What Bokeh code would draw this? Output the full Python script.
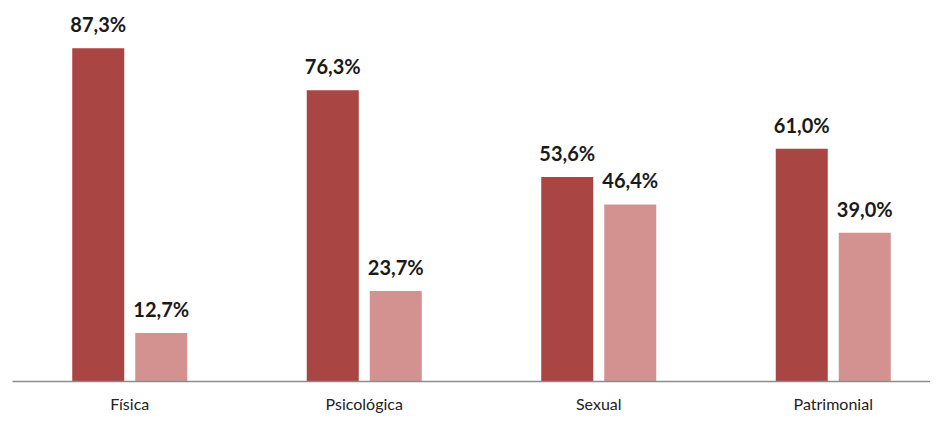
from bokeh.plotting import figure
from bokeh.models import ColumnDataSource, FixedTicker, Range1d
from bokeh.transform import dodge
from bokeh.core.properties import value
from bokeh.embed import file_html
from bokeh.resources import INLINE

categories = ["Física", "Psicológica", "Sexual", "Patrimonial"]
series_a = [87.3, 76.3, 53.6, 61.0]
series_b = [12.7, 23.7, 46.4, 39.0]

def fmt(v):
    return f"{v:.1f}".replace(".", ",") + "%"

xs = [i + 0.5 for i in range(len(categories))]
src = ColumnDataSource(dict(
    x=xs,
    a=series_a,
    b=series_b,
    la=[fmt(v) for v in series_a],
    lb=[fmt(v) for v in series_b],
))

W, H = 930, 415
left = 12
px_per_cat = 234.5
frame_w = W - left
frame_h = 383
px_per_unit = 3.837

p = figure(width=W, height=H, output_backend="svg", toolbar_location=None,
           x_range=Range1d(0, frame_w / px_per_cat),
           y_range=Range1d(0, frame_h / px_per_unit),
           min_border_left=left, min_border_right=0, min_border_top=0,
           min_border_bottom=H - frame_h)

off = 31.5 / px_per_cat
bw = 52 / px_per_cat
dark = "#A94543"
light = "#D39190"

p.vbar(x=dodge("x", -off, range=p.x_range), top="a", width=bw, source=src,
       fill_color=dark, line_color=None)
p.vbar(x=dodge("x", off, range=p.x_range), top="b", width=bw, source=src,
       fill_color=light, line_color=None)

for col, lab, o in (("a", "la", -off), ("b", "lb", off)):
    p.text(x=dodge("x", o, range=p.x_range), y=col, text=lab, source=src,
           text_align="center", text_baseline="bottom", y_offset=-12,
           text_font=value("Lato"), text_font_style="bold", text_font_size="20px",
           text_color="#1a1a1a")

p.yaxis.visible = False
p.xgrid.visible = False
p.ygrid.visible = False
p.outline_line_color = None

xa = p.xaxis[0]
xa.ticker = FixedTicker(ticks=xs)
xa.major_label_overrides = {x: c for x, c in zip(xs, categories)}
xa.major_tick_line_color = None
xa.major_tick_out = 0
xa.major_tick_in = 0
xa.minor_tick_line_color = None
xa.minor_tick_out = 0
xa.axis_line_color = "#8c8c8c"
xa.axis_line_width = 1.5
xa.major_label_text_font = "Lato"
xa.major_label_text_font_size = "16px"
xa.major_label_text_color = "#222222"
xa.major_label_standoff = 12

open("out.html", "w").write(file_html(p, INLINE))
